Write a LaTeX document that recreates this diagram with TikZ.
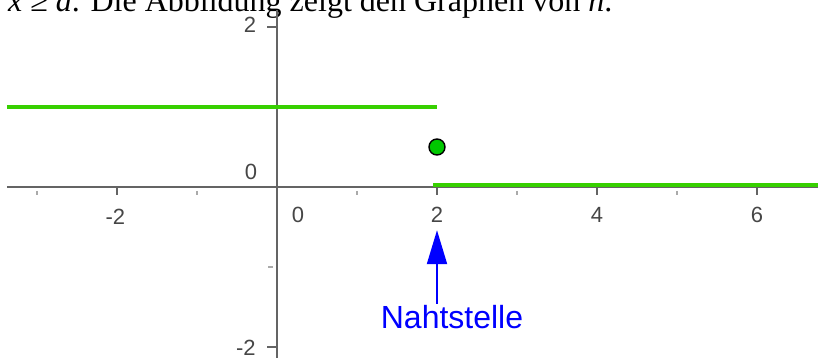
\documentclass[tikz,border=0pt]{standalone}
\usepackage{fontspec}
\setmainfont{Liberation Serif}
\setsansfont{Liberation Sans}
\usetikzlibrary{arrows.meta}
\definecolor{axisgray}{RGB}{100,100,100}
\definecolor{ticklight}{RGB}{170,170,170}
\definecolor{labgray}{RGB}{70,70,70}
\definecolor{graphgreen}{RGB}{55,208,0}
\definecolor{dotgreen}{RGB}{0,200,0}
\definecolor{ggblue}{RGB}{0,0,255}
\tikzset{
  axisline/.style={draw=axisgray,line width=2pt},
  majortick/.style={draw=axisgray,line width=1.6pt},
  minortick/.style={draw=ticklight,line width=1.2pt},
  ticklabel/.style={text=labgray,font=\sffamily\fontsize{22}{22}\selectfont,inner sep=0pt},
  graphline/.style={draw=graphgreen,line width=4pt},
  dotstyle/.style={circle,fill=dotgreen,draw=black,line width=1.4pt,minimum size=16pt,inner sep=0pt},
  bluearrow/.style={draw=ggblue,line width=2pt,-{Triangle[length=34pt,width=20pt]}},
  bluelabel/.style={text=ggblue,font=\sffamily\fontsize{32}{32}\selectfont,inner sep=0pt}
}
\begin{document}
\begin{tikzpicture}[x=80pt,y=80pt]
\useasboundingbox (-3.4625,-2.1375) rectangle (6.7625,2.3375);
\clip (-3.4625,-2.1375) rectangle (6.7625,2.3375);
% cut-off line of text at the top
\node[anchor=base west,inner sep=0pt,font=\fontsize{32}{32}\selectfont] (toptext) at (-3.3625,2.1875)
  {\textit{x} ≥ \textit{a}. Die Abbildung zeigt den Graphen von \textit{h}.};
% axes
\draw[axisline] (-3.375,0) -- (6.8,0);
\draw[axisline] (0,2.215) -- (0,-2.2);
% x ticks
\foreach \x in {-2,2,4,6} \draw[majortick] (\x,0) -- (\x,-0.1);
\foreach \x in {-3,-1,1,3,5} \draw[minortick] (\x,-0.05) -- (\x,-0.1);
% y ticks
\foreach \y in {2,-2} \draw[majortick] (0,\y) -- (-0.13,\y);
\foreach \y in {1,-1} \draw[minortick] (-0.05,\y) -- (-0.11,\y);
% tick labels
\node[ticklabel] (ly2) at (-0.3375,2.025) {2};
\node[ticklabel] (ly0) at (-0.325,0.1875) {0};
\node[ticklabel] (lym2) at (-0.39,-2.01) {-2};
\node[ticklabel] (lxm2) at (-2.02,-0.375) {-2};
\node[ticklabel] (lx0) at (0.2625,-0.35) {0};
\node[ticklabel] (lx2) at (2,-0.35) {2};
\node[ticklabel] (lx4) at (4,-0.35) {4};
\node[ticklabel] (lx6) at (6,-0.35) {6};
% graph
\draw[graphline] (-3.375,1) -- (2.0,1);
\draw[graphline] (1.95,0.02) -- (6.8,0.02);
\node[dotstyle] (pt) at (2,0.5) {};
% seam annotation
\coordinate (tip) at (2,-0.54);
\node[bluelabel,anchor=base] (naht) at (2.1875,-1.7625) {Nahtstelle};
\draw[bluearrow] ([yshift=1pt]tip |- naht.north) -- (tip);
\end{tikzpicture}
\end{document}
